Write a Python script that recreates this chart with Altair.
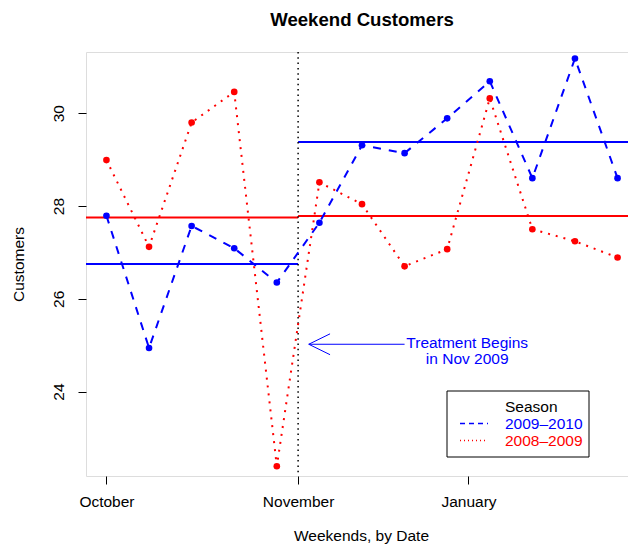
import altair as alt
import pandas as pd

# Weekend customer counts, one value per weekend from October onward
weeks = list(range(1, 14))
season_new = "2009–2010"
season_old = "2008–2009"
customers_new = [27.79, 24.94, 27.57, 27.09, 26.35, 27.64, 29.31,
                 29.14, 29.89, 30.69, 28.60, 31.18, 28.60]
customers_old = [28.99, 27.12, 29.80, 30.46, 22.39, 28.51, 28.04,
                 26.70, 27.07, 30.32, 27.50, 27.24, 26.89]

# Axis ticks and labels
x_tick_values = [1, 5.5, 9.5]
x_tick_labels = ["October", "November", "January"]
y_tick_values = [24, 26, 28, 30]

# Treatment start (between weekend 5 and 6) and plotting limits
treatment_start = 5.5
x_limits = [0.52, 13.48]
y_limits = [22.18, 31.32]

# Annotation arrow (data units) and its label
arrow_y = 25.02
arrow_tip = 5.75
arrow_tail = 8.0
arrow_head_back = 6.25
arrow_head_spread = 0.225
note_lines = ["Treatment Begins", "in Nov 2009"]
note_x = 9.47
note_y = [24.93, 24.59]

FONT = "Liberation Sans"
FS = 15.5
seasons = [season_new, season_old]
season_colors = ["blue", "red"]
season_dashes = [[8, 8], [2, 6]]

series = pd.DataFrame({
    "week": weeks * 2,
    "customers": customers_new + customers_old,
    "season": [season_new] * len(weeks) + [season_old] * len(weeks),
})

# Before / after means for each season
rows = []
for name, vals in [(season_new, customers_new), (season_old, customers_old)]:
    pre = [v for w, v in zip(weeks, vals) if w < treatment_start]
    post = [v for w, v in zip(weeks, vals) if w > treatment_start]
    rows.append({"season": name, "start": x_limits[0], "end": treatment_start,
                 "mean": sum(pre) / len(pre)})
    rows.append({"season": name, "start": treatment_start, "end": x_limits[1],
                 "mean": sum(post) / len(post)})
means = pd.DataFrame(rows)

label_expr = " : ".join(
    f"datum.value == {v} ? '{t}'" for v, t in zip(x_tick_values[:-1], x_tick_labels[:-1])
) + f" : '{x_tick_labels[-1]}'"

x_axis = alt.Axis(
    values=x_tick_values, labelExpr=label_expr, title="Weekends, by Date",
    grid=False, domain=False, tickSize=8, tickColor="black", tickWidth=1,
    labelFont=FONT, labelFontSize=FS, labelColor="black", labelPadding=10,
    labelBaseline="top", labelFlush=False,
    titleFont=FONT, titleFontSize=FS, titleFontWeight="normal", titleColor="black",
    titleX=275, titleY=64, titleBaseline="alphabetic", titleAnchor="middle",
)
y_axis = alt.Axis(
    values=y_tick_values, title="Customers",
    grid=False, domain=False, tickSize=8, tickColor="black", tickWidth=1,
    labelFont=FONT, labelFontSize=FS, labelColor="black", labelAngle=-90,
    labelAlign="center", labelBaseline="alphabetic", labelPadding=15,
    titleFont=FONT, titleFontSize=FS, titleFontWeight="normal", titleColor="black",
    titleX=-63, titleY=212, titleAngle=-90, titleBaseline="alphabetic",
    titleAlign="center",
)


def xq(field):
    return alt.X(f"{field}:Q", scale=alt.Scale(domain=x_limits, nice=False, zero=False),
                 axis=x_axis)


def yq(field):
    return alt.Y(f"{field}:Q", scale=alt.Scale(domain=y_limits, nice=False, zero=False),
                 axis=y_axis)


lines = alt.Chart(series).mark_line(strokeWidth=2, strokeCap="butt").encode(
    x=xq("week"),
    y=yq("customers"),
    color=alt.Color("season:N", scale=alt.Scale(domain=seasons, range=season_colors),
                    legend=None),
    strokeDash=alt.StrokeDash("season:N",
                              scale=alt.Scale(domain=seasons, range=season_dashes),
                              legend=None),
)

points = alt.Chart(series).mark_circle(size=44, opacity=1).encode(
    x=xq("week"),
    y=yq("customers"),
    fill=alt.Fill("season:N", scale=alt.Scale(domain=seasons, range=season_colors),
                  legend=None),
)

mean_rules = alt.Chart(means).mark_rule(strokeWidth=2).encode(
    x=xq("start"),
    x2="end:Q",
    y=yq("mean"),
    stroke=alt.Stroke("season:N", scale=alt.Scale(domain=seasons, range=season_colors),
                      legend=None),
)

treatment_line = alt.Chart(pd.DataFrame({"week": [treatment_start]})).mark_rule(
    color="black", strokeWidth=1.5, strokeDash=[1.5, 3.8]
).encode(x=xq("week"))

arrow = pd.DataFrame({
    "x": [arrow_tail, arrow_tip, arrow_tip],
    "x2": [arrow_tip, arrow_head_back, arrow_head_back],
    "y": [arrow_y, arrow_y, arrow_y],
    "y2": [arrow_y, arrow_y + arrow_head_spread, arrow_y - arrow_head_spread],
})
arrow_marks = alt.Chart(arrow).mark_rule(color="blue", strokeWidth=1).encode(
    x=xq("x"), x2="x2:Q", y=yq("y"), y2="y2:Q"
)

note = alt.Chart(pd.DataFrame({"text": note_lines, "x": [note_x] * 2, "y": note_y})).mark_text(
    color="blue", font=FONT, fontSize=FS, align="center", baseline="alphabetic"
).encode(x=xq("x"), y=yq("y"), text="text:N")

# Legend box drawn in the lower right of the plot panel
legend_src = alt.Chart(pd.DataFrame({"k": [0]}))
legend_box = legend_src.mark_rect(fill="white", stroke="black", strokeWidth=1).encode(
    x=alt.value(361), x2=alt.value(503), y=alt.value(339), y2=alt.value(405)
)
legend_title = legend_src.mark_text(
    text="Season", font=FONT, fontSize=FS, color="black", align="left", baseline="alphabetic"
).encode(x=alt.value(419), y=alt.value(360))
legend_parts = [legend_box, legend_title]
for i, (name, col, dash) in enumerate(zip(seasons, season_colors, [[5, 4], [1, 3]])):
    row_base = 377 + 17 * i
    legend_parts.append(
        legend_src.mark_rule(stroke=col, strokeWidth=1.5, strokeDash=dash).encode(
            x=alt.value(374), x2=alt.value(402),
            y=alt.value(row_base - 5.5), y2=alt.value(row_base - 5.5))
    )
    legend_parts.append(
        legend_src.mark_text(text=name, font=FONT, fontSize=FS, color=col,
                             align="left", baseline="alphabetic").encode(
            x=alt.value(419), y=alt.value(row_base))
    )

chart = alt.layer(
    mean_rules, treatment_line, lines, points, arrow_marks, note, *legend_parts
).properties(
    width=552,
    height=424,
    title=alt.TitleParams(
        "Weekend Customers", font=FONT, fontSize=18.6, fontWeight="bold", color="black",
        anchor="middle", frame="group", baseline="alphabetic", offset=7,
    ),
    autosize=alt.AutoSizeParams(type="none"),
    padding={"left": 86, "top": 52, "right": -10, "bottom": 70},
).configure_view(
    stroke="black", strokeWidth=1
).configure(background="white")

chart.save("out.html", embed_options={"renderer": "svg", "actions": False})
